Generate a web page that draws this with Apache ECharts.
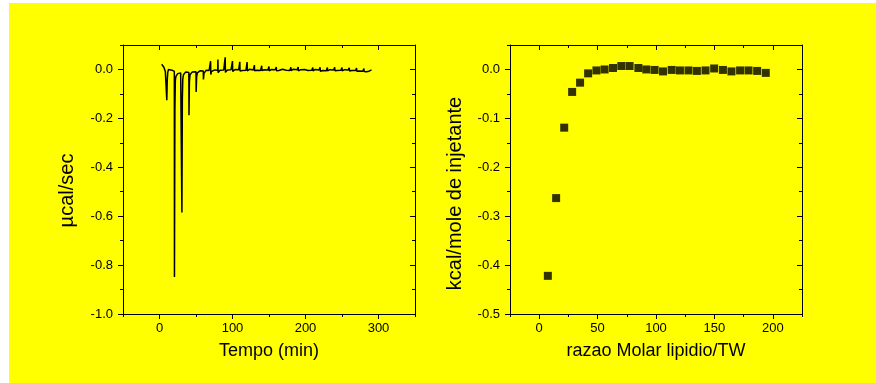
<!DOCTYPE html>
<html>
<head>
<meta charset="utf-8">
<script src="https://cdn.jsdelivr.net/npm/echarts@6/dist/echarts.min.js"></script>
<style>
html,body{margin:0;padding:0;background:#fff;}
#chart{width:876px;height:383px;}
</style>
</head>
<body>
<div id="chart"></div>
<script>
// ---- Left panel: raw ITC thermogram ----
const traceTime = [
3, 4, 5, 6, 7, 8, 9, 9.9,
10.0, 10.6, 11.3, 12.3, 13.5, 15, 17, 19, 20.3,
20.5, 21.1, 21.7, 22.5, 23.6, 25, 27, 29, 30.5,
30.7, 31.3, 31.9, 32.8, 34, 36, 38, 40.2,
40.4, 41.0, 41.8, 43, 45, 47.5, 50.0,
50.2, 50.9, 51.8, 53.5, 56, 58, 60.0,
60.2, 60.9, 62, 64, 66, 68, 69.8,
70.0, 70.3, 71.0, 73, 75.5, 78, 79.8,
80.0, 80.3, 81.0, 83, 85.5, 88, 89.8,
90.0, 90.3, 91.0, 93, 95.5, 98, 99.8,
100.0, 100.3, 101.2, 103.5, 106, 108.5, 109.8,
110.0, 110.3, 111.2, 113.5, 116, 118.5, 119.8,
120.0, 120.3, 121.2, 123.5, 126, 128.5, 129.8,
130.0, 130.3, 131.2, 133.5, 136, 138.5, 139.8,
140.0, 140.3, 141.2, 143.5, 146, 148.5, 149.8,
150.0, 150.3, 151.2, 153.5, 156, 158.5, 159.8,
160.0, 160.3, 161.2, 163.5, 166, 168.5, 169.8,
170.0, 170.3, 171.2, 173.5, 176, 178.5, 179.8,
180.0, 180.3, 181.2, 183.5, 186, 188.5, 189.8,
190.0, 190.3, 191.2, 193.5, 196, 198.5, 199.8,
200.0, 200.3, 201.2, 203.5, 206, 208.5, 209.8,
210.0, 210.3, 211.2, 213.5, 216, 218.5, 219.8,
220.0, 220.3, 221.2, 223.5, 226, 228.5, 229.8,
230.0, 230.3, 231.2, 233.5, 236, 238.5, 239.8,
240.0, 240.3, 241.2, 243.5, 246, 248.5, 249.8,
250.0, 250.3, 251.2, 253.5, 256, 258.5, 259.8,
260.0, 260.3, 261.2, 263.5, 266, 268.5, 269.8,
270.0, 270.3, 271.2, 273.5, 276, 278.5, 279.8,
280.0, 280.3, 281.2, 283.5, 285.5, 287, 289, 290.4
];
const traceHeat = [
0.021, 0.016, 0.019, 0.009, 0.004, -0.008, -0.003, -0.004,
-0.126, -0.045, -0.012, 0.000, 0.004, 0.002, -0.003, -0.006, -0.008,
-0.849, -0.160, -0.045, -0.028, -0.020, -0.017, -0.012, -0.014, -0.016,
-0.585, -0.120, -0.040, -0.022, -0.016, -0.010, -0.013, -0.012,
-0.187, -0.050, -0.022, -0.014, -0.010, -0.008, -0.009,
-0.092, -0.030, -0.014, -0.008, -0.005, -0.006, -0.006,
-0.041, -0.016, -0.008, -0.003, -0.002, -0.004, -0.003,
0.034, -0.021, -0.009, -0.004, -0.002, -0.005, -0.003,
0.041, -0.013, -0.006, -0.003, -0.005, -0.002, -0.004,
0.050, -0.012, -0.006, -0.002, -0.004, -0.001, -0.003,
0.034, -0.008, -0.003, 0.000, -0.003, -0.001, -0.002,
0.031, -0.006, -0.002, -0.004, 0.000, -0.003, -0.001,
0.030, -0.006, -0.002, 0.001, -0.004, -0.002, -0.003,
0.018, -0.005, -0.001, -0.003, 0.000, -0.004, -0.002,
0.015, -0.005, -0.002, -0.001, -0.004, -0.002, -0.003,
0.012, -0.006, -0.002, 0.000, -0.003, -0.001, -0.004,
0.010, -0.005, -0.001, -0.004, -0.002, 0.001, -0.003,
0.009, -0.006, -0.002, -0.003, 0.000, -0.004, -0.002,
0.009, -0.005, -0.002, 0.001, -0.003, -0.001, -0.004,
0.010, -0.006, -0.003, -0.001, -0.004, 0.000, -0.002,
0.008, -0.005, -0.002, -0.004, -0.001, -0.003, -0.002,
0.008, -0.006, -0.003, 0.000, -0.004, -0.002, -0.003,
0.009, -0.007, -0.002, -0.004, -0.001, -0.005, -0.002,
0.008, -0.006, -0.003, -0.001, -0.004, -0.002, -0.003,
0.009, -0.005, -0.002, -0.004, -0.001, -0.003, -0.002,
0.008, -0.006, -0.003, -0.001, -0.004, -0.002, -0.003,
0.007, -0.006, -0.002, -0.004, -0.002, -0.004, -0.003,
0.006, -0.007, -0.004, -0.006, -0.005, -0.007, -0.006,
0.004, -0.008, -0.006, -0.009, -0.012, -0.007, -0.004, -0.002
];
const timeTicksMajor = [0, 100, 200, 300];
const timeTicksMinor = [-50, 50, 150, 250, 350];
const heatTicksMajor = [-1.0, -0.8, -0.6, -0.4, -0.2, 0.0];
const heatTicksMinor = [-0.9, -0.7, -0.5, -0.3, -0.1, 0.1];

// ---- Right panel: integrated heats ----
const molarRatio = [7.4, 14.5, 21.4, 28.2, 35.0, 41.9, 49.0, 56.0, 63.2, 70.3, 77.4, 84.9, 91.7, 98.8,
  106.0, 113.4, 120.5, 127.8, 135.0, 142.4, 149.8, 157.3, 164.6, 172.0, 179.2, 186.6, 194.0];
const enthalpy = [-0.422, -0.263, -0.119, -0.046, -0.027, -0.008, -0.002, 0.000, 0.003, 0.007, 0.007, 0.003, 0.000, -0.001,
  -0.004, -0.001, -0.002, -0.002, -0.003, -0.002, 0.002, -0.001, -0.004, -0.002, -0.002, -0.003, -0.007];
const ratioTicksMajor = [0, 50, 100, 150, 200];
const ratioTicksMinor = [-25, 25, 75, 125, 175, 225];
const enthTicksMajor = [-0.5, -0.4, -0.3, -0.2, -0.1, 0.0];
const enthTicksMinor = [-0.45, -0.35, -0.25, -0.15, -0.05, 0.05];

const FONT = "'Liberation Sans', Arial, sans-serif";
const lineStyle = { color: '#000', width: 1 };

function axisGroup(dir, gridIndex, min, max, majors, minors, fmt, name, nameGap, namePad, nameSize) {
  const isX = dir === 'x';
  const near = isX ? 'bottom' : 'left';
  const far = isX ? 'top' : 'right';
  const base = { type: 'value', gridIndex, min, max, splitLine: { show: false },
    axisLine: { show: true, onZero: false, lineStyle } };
  const hiddenLine = { show: false, onZero: false };
  return [
    Object.assign({}, base, {
      position: near,
      axisTick: { show: true, inside: false, length: 5, lineStyle, customValues: majors },
      axisLabel: { show: true, customValues: majors, formatter: fmt, margin: isX ? 8 : 10,
        color: '#000', fontFamily: FONT, fontSize: 13 },
      name, nameLocation: 'middle', nameGap,
      nameTextStyle: { color: '#000', fontFamily: FONT, fontSize: nameSize, padding: namePad }
    }),
    Object.assign({}, base, {
      position: near, axisLine: hiddenLine,
      axisTick: { show: true, inside: false, length: 3, lineStyle, customValues: minors },
      axisLabel: { show: false }
    }),
    Object.assign({}, base, {
      position: far,
      axisTick: { show: true, inside: true, length: 5, lineStyle, customValues: majors },
      axisLabel: { show: false }
    }),
    Object.assign({}, base, {
      position: far, axisLine: hiddenLine,
      axisTick: { show: true, inside: true, length: 3, lineStyle, customValues: minors },
      axisLabel: { show: false }
    })
  ];
}

const fmtInt = v => String(Math.round(v));
const fmt1 = v => v.toFixed(1);

const xAxes = [].concat(
  axisGroup('x', 0, -50, 350, timeTicksMajor, timeTicksMinor, fmtInt, 'Tempo (min)', 28, 0, 18),
  axisGroup('x', 1, -25, 225, ratioTicksMajor, ratioTicksMinor, fmtInt, 'razao Molar lipidio/TW', 28, 0, 18)
);
const yAxes = [].concat(
  axisGroup('y', 0, -1.0, 0.1, heatTicksMajor, heatTicksMinor, fmt1, 'µcal/sec', 46, [0, 22, 0, 0], 20),
  axisGroup('y', 1, -0.5, 0.05, enthTicksMajor, enthTicksMinor, fmt1, 'kcal/mole de injetante', 45, [0, 28, 0, 0], 20)
);

const chart = echarts.init(document.getElementById('chart'), null, { renderer: 'canvas' });
chart.setOption({
  animation: false,
  backgroundColor: '#ffffff',
  graphic: [{ type: 'rect', z: -10, shape: { x: 9, y: 3, width: 867, height: 380 }, style: { fill: '#ffff00' } }],
  grid: [
    { left: 123, right: 461, top: 45, bottom: 69, containLabel: false },
    { left: 510, right: 74, top: 45, bottom: 69, containLabel: false }
  ],
  xAxis: xAxes,
  yAxis: yAxes,
  series: [
    { type: 'line', xAxisIndex: 0, yAxisIndex: 0, showSymbol: false, symbol: 'none',
      data: traceTime.map((t, i) => [t, traceHeat[i]]),
      lineStyle: { color: '#000', width: 1.5 }, z: 3 },
    { type: 'scatter', xAxisIndex: 4, yAxisIndex: 4, symbol: 'rect', symbolSize: 8,
      data: molarRatio.map((r, i) => [r, enthalpy[i]]),
      itemStyle: { color: '#000' }, z: 3 }
  ]
});
</script>
</body>
</html>
